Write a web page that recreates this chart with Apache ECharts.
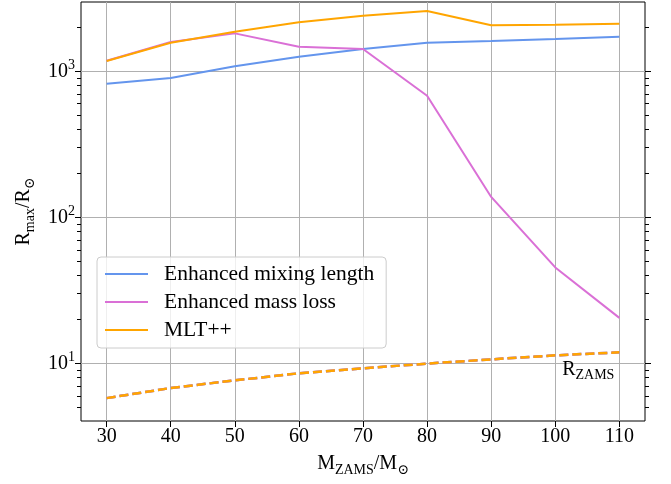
<!DOCTYPE html>
<html>
<head>
<meta charset="utf-8">
<script src="https://cdn.jsdelivr.net/npm/echarts@6/dist/echarts.min.js"></script>
<style>html,body{margin:0;padding:0;background:#fff}#c{width:671px;height:484px}</style>
</head>
<body>
<div id="c"></div>
<script>
const xValues = [30, 40, 50, 60, 70, 80, 90, 100, 110];
const mixing = [822, 900, 1082, 1259, 1422, 1570, 1613, 1664, 1726];
const massLoss = [1182, 1587, 1820, 1474, 1422, 681, 138, 45.4, 20.5];
const mltpp = [1177, 1570, 1867, 2168, 2405, 2588, 2066, 2084, 2119];
const rZams = [5.78, 6.78, 7.65, 8.55, 9.25, 9.96, 10.65, 11.35, 11.9];
const xTicks = [30, 40, 50, 60, 70, 80, 90, 100, 110];
const yMajorTicks = [10, 100, 1000];
const yMinorTicks = [4, 5, 6, 7, 8, 9, 20, 30, 40, 50, 60, 70, 80, 90, 200, 300, 400, 500, 600, 700, 800, 900, 2000];
const seriesNames = ['Enhanced mixing length', 'Enhanced mass loss', 'MLT++'];
const colors = ['#6495ED', '#DA70D6', '#FFA500'];

const FONT = '"Liberation Serif", "DejaVu Serif", serif';
const pair = (xs, ys) => xs.map((x, i) => [x, ys[i]]);
const rich = {
  n: {fontFamily: FONT, fontSize: 20, lineHeight: 26, color: '#000', verticalAlign: 'middle'},
  sub: {fontFamily: FONT, fontSize: 14, lineHeight: 12, color: '#000', verticalAlign: 'bottom'},
  sup: {fontFamily: FONT, fontSize: 14, lineHeight: 14, color: '#000', verticalAlign: 'top'}
};
const Y_MIN = 4.03, Y_MAX = 2985;

function yAxisDef(pos, ticks, major) {
  return {
    type: 'log', logBase: 10, min: Y_MIN, max: Y_MAX, position: pos,
    axisLine: {show: false},
    axisTick: {show: true, customValues: ticks, length: major ? 6 : 4, lineStyle: {color: '#000', width: 1}},
    axisLabel: (major && pos === 'left') ? {
      show: true, customValues: ticks, margin: 6,
      formatter: v => '{n|10}{sup|' + Math.round(Math.log10(v)) + '}', rich: rich
    } : {show: false},
    splitLine: (major && pos === 'left') ? {show: true, lineStyle: {color: '#b0b0b0', width: 1}} : {show: false},
    minorTick: {show: false}, minorSplitLine: {show: false},
    name: (major && pos === 'left') ? '{n|R}{sub|max}{n|/R}{sub|⊙}' : '',
    nameLocation: 'middle', nameRotate: 90, nameGap: 42,
    nameTextStyle: {rich: rich}
  };
}

const series = [];
seriesNames.forEach((nm, i) => {
  series.push({
    name: nm, type: 'line', data: pair(xValues, [mixing, massLoss, mltpp][i]),
    symbol: 'none', lineStyle: {color: colors[i], width: 2}, itemStyle: {color: colors[i]},
    z: 3 + i, animation: false
  });
});
colors.forEach((c, i) => {
  const s = {
    name: 'R_ZAMS ' + i, type: 'line', data: pair(xValues, rZams),
    symbol: 'none', lineStyle: {color: c, width: 2.5, type: [9, 4]}, itemStyle: {color: c},
    z: 3 + i, animation: false
  };
  if (i === 2) {
    s.markPoint = {
      symbol: 'circle', symbolSize: 0, animation: false,
      data: [{coord: [xValues[8], rZams[8]]}],
      label: {show: true, position: [-5, 4], align: 'right', verticalAlign: 'top',
        formatter: '{n|R}{sub|ZAMS}', rich: rich}
    };
  }
  series.push(s);
});

const chart = echarts.init(document.getElementById('c'), null, {renderer: 'canvas'});
chart.setOption({
  animation: false,
  backgroundColor: '#fff',
  grid: {left: 81, right: 26, top: 2, bottom: 63, show: true, borderColor: '#000', borderWidth: 1, backgroundColor: 'transparent'},
  legend: {
    data: seriesNames.map(n => ({name: n, icon: 'rect'})),
    orient: 'vertical', left: 97, top: 257,
    itemWidth: 43, itemHeight: 2, itemGap: 6,
    padding: [6, 12, 7, 8],
    backgroundColor: 'rgba(255,255,255,0.8)', borderColor: '#cccccc', borderWidth: 1, borderRadius: 4,
    textStyle: {fontFamily: FONT, fontSize: 21.5, lineHeight: 22, color: '#000', padding: [0, 0, 0, 11]}
  },
  xAxis: {
    type: 'value', min: 26, max: 114,
    axisLine: {show: false},
    axisTick: {show: true, customValues: xTicks, length: 6, lineStyle: {color: '#000'}},
    axisLabel: {show: true, customValues: xTicks, margin: 6, fontFamily: FONT, fontSize: 20, color: '#000'},
    splitLine: {show: true, lineStyle: {color: '#b0b0b0', width: 1}},
    name: '{n|M}{sub|ZAMS}{n|/M}{sub|⊙}', nameLocation: 'middle', nameGap: 30,
    nameTextStyle: {rich: rich}
  },
  yAxis: [
    yAxisDef('left', yMajorTicks, true),
    yAxisDef('left', yMinorTicks, false),
    yAxisDef('right', yMajorTicks, true),
    yAxisDef('right', yMinorTicks, false)
  ],
  series: series
});
</script>
</body>
</html>
